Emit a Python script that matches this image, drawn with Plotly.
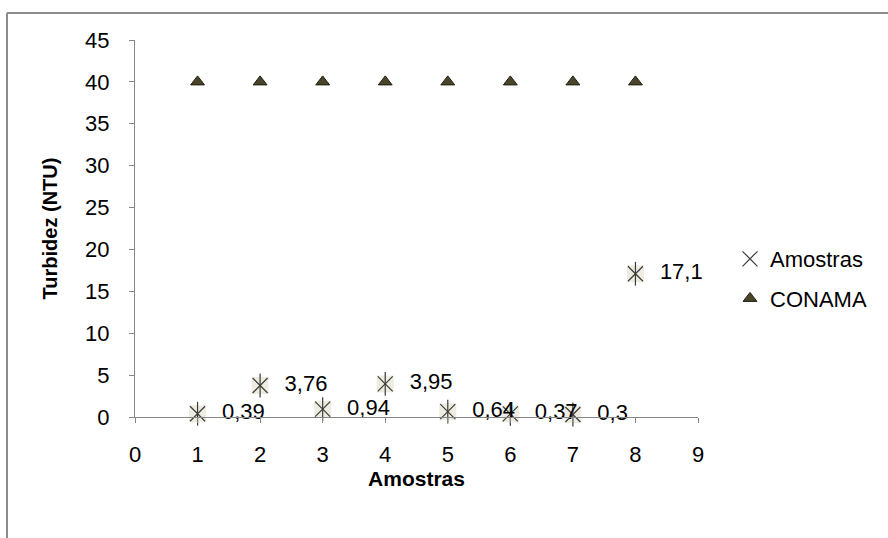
import plotly.graph_objects as go

amostras_x = [1, 2, 3, 4, 5, 6, 7, 8]
amostras_y = [0.39, 3.76, 0.94, 3.95, 0.64, 0.37, 0.3, 17.1]
conama_x = [1, 2, 3, 4, 5, 6, 7, 8]
conama_y = [40, 40, 40, 40, 40, 40, 40, 40]
x_ticks = [0, 1, 2, 3, 4, 5, 6, 7, 8, 9]
y_ticks = [0, 5, 10, 15, 20, 25, 30, 35, 40, 45]

labels = [f"{v:g}".replace(".", ",") for v in amostras_y]

FONT = "Liberation Sans, Arial, sans-serif"
AX = "#868686"
FS = 22
W, H = 888, 538
L, R, T, B = 135, 190, 40, 121
pw, ph = W - L - R, H - T - B

fig = go.Figure()
# beige background box of the asterisk marker
fig.add_trace(go.Scatter(
    x=amostras_x, y=amostras_y, mode="markers", legendgroup="a", showlegend=False,
    marker=dict(symbol="square", size=17, color="#EEECE1", line=dict(width=0)),
    cliponaxis=False, hoverinfo="skip"))
fig.add_trace(go.Scatter(
    x=amostras_x, y=amostras_y, mode="markers", legendgroup="a", showlegend=False,
    marker=dict(symbol="line-ns-open", size=17, color="#3a3a3a", line=dict(width=1.2, color="#3a3a3a")),
    cliponaxis=False, hoverinfo="skip"))
fig.add_trace(go.Scatter(
    x=amostras_x, y=amostras_y, mode="markers", name="Amostras", legendgroup="a",
    marker=dict(symbol="x-thin-open", size=15, color="#3a3a3a", line=dict(width=1.2, color="#3a3a3a")),
    cliponaxis=False))
# data labels
fig.add_trace(go.Scatter(
    x=amostras_x, y=amostras_y, mode="text", legendgroup="a", showlegend=False,
    text=labels, textposition="middle right",
    texttemplate="    %{text}",
    textfont=dict(family=FONT, size=FS, color="#000000"),
    cliponaxis=False, hoverinfo="skip"))
fig.add_trace(go.Scatter(
    x=conama_x, y=conama_y, mode="markers", name="CONAMA", legendgroup="c",
    marker=dict(symbol="triangle-up", size=12, color="#4A452A", line=dict(width=1, color="#1E1C10")),
    cliponaxis=False))

def px(x):
    return (x - L) / pw

def py(y):
    return (H - B - y) / ph

border = dict(type="line", xref="paper", yref="paper", line=dict(color="#8c8c8c", width=2))
fig.add_shape(x0=px(7), x1=px(888), y0=py(13), y1=py(13), **border)
fig.add_shape(x0=px(7), x1=px(7), y0=py(13), y1=py(538), **border)

fig.update_layout(
    width=W, height=H,
    margin=dict(l=L, r=R, t=T, b=B, pad=0),
    paper_bgcolor="white", plot_bgcolor="white",
    font=dict(family=FONT, size=FS, color="#000000"),
    showlegend=True,
    legend=dict(x=px(730), y=py(238), xanchor="left", yanchor="top",
                traceorder="grouped", tracegroupgap=8,
                font=dict(family=FONT, size=FS, color="#000000"),
                bgcolor="rgba(0,0,0,0)", itemwidth=30),
    xaxis=dict(range=[0, 9], tickvals=x_ticks, ticktext=[str(v) for v in x_ticks],
               showgrid=False, zeroline=False, showline=True, linecolor=AX, linewidth=1,
               ticks="outside", ticklen=5, tickcolor=AX, ticklabelstandoff=13,
               tickfont=dict(family=FONT, size=FS),
               title=dict(text="<b>Amostras</b>", font=dict(family=FONT, size=21), standoff=0)),
    yaxis=dict(range=[0, 45], tickvals=y_ticks, ticktext=[str(v) for v in y_ticks],
               showgrid=False, zeroline=False, showline=True, linecolor=AX, linewidth=1,
               ticks="outside", ticklen=5, tickcolor=AX, ticklabelstandoff=15,
               tickfont=dict(family=FONT, size=FS),
               title=dict(text="<b>Turbidez (NTU)</b>", font=dict(family=FONT, size=20), standoff=22)),
)

fig.write_html("out.html")
